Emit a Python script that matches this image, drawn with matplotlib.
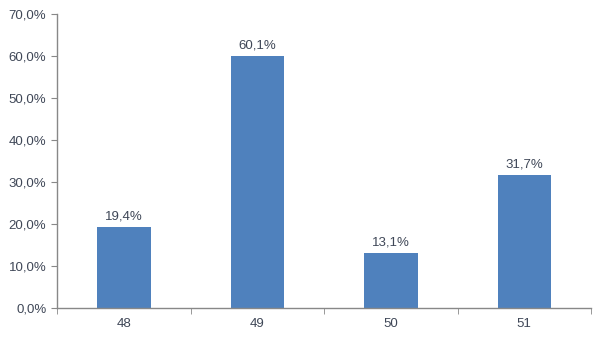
import matplotlib
matplotlib.use("Agg")
import matplotlib.pyplot as plt
from matplotlib.ticker import FuncFormatter

categories = ["48", "49", "50", "51"]
values = [19.4, 60.1, 13.1, 31.7]
yticks = [0, 10, 20, 30, 40, 50, 60, 70]

plt.rcParams['font.family'] = ['Liberation Sans', 'DejaVu Sans']
text_color = "#3f4757"
axis_color = "#888888"
bar_color = "#4f81bd"

fig = plt.figure(figsize=(6, 3.38), dpi=100)
ax = fig.add_axes([0.0958, 0.0888, 0.889, 0.8698])

x = list(range(len(categories)))
bars = ax.bar(x, values, width=0.4, color=bar_color, zorder=2)
for xi, v in zip(x, values):
    ax.text(xi, v + 1.0, f"{v:.1f}%".replace(".", ","), ha="center", va="bottom",
            fontsize=9.5, color=text_color)

ax.set_xlim(-0.5, len(categories) - 0.5)
ax.set_ylim(0, 70)
ax.set_yticks(yticks)
ax.yaxis.set_major_formatter(FuncFormatter(lambda v, p: f"{v:.1f}%".replace(".", ",")))
ax.set_xticks(x)
ax.set_xticklabels(categories)
ax.set_xticks([i - 0.5 for i in range(len(categories) + 1)], minor=True)
ax.tick_params(axis="x", which="major", length=0, pad=7, labelsize=9.5, labelcolor=text_color)
ax.tick_params(axis="x", which="minor", length=4, direction="out", color=axis_color)
ax.tick_params(axis="y", length=4, direction="out", color=axis_color, labelsize=9.5,
               labelcolor=text_color, pad=4)

for s in ["top", "right"]:
    ax.spines[s].set_visible(False)
for s in ["left", "bottom"]:
    ax.spines[s].set_color(axis_color)
    ax.spines[s].set_linewidth(1)

fig.savefig("out.png", dpi=100)
